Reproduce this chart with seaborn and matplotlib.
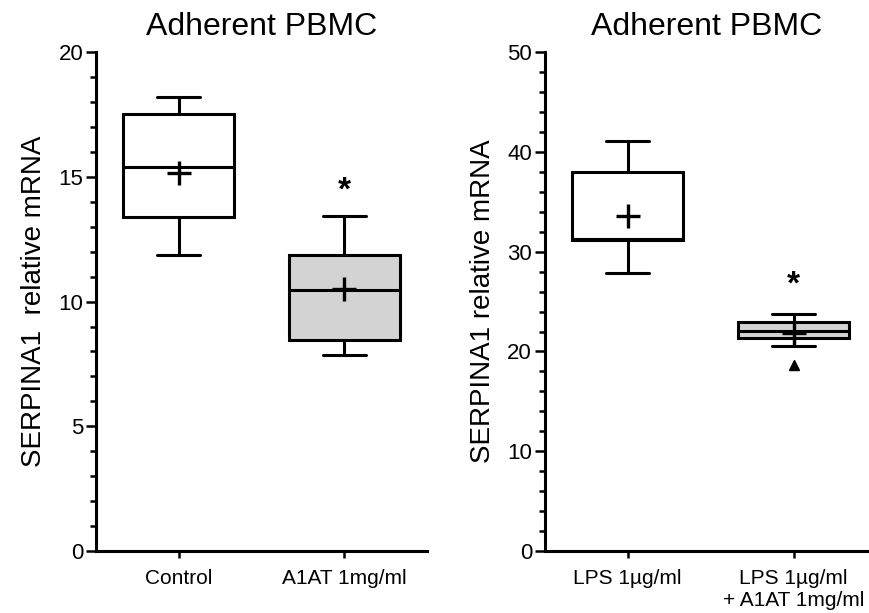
import numpy as np
import pandas as pd
import seaborn as sns
import matplotlib.pyplot as plt
from matplotlib.ticker import MultipleLocator

# values: whisker low, Q1, median, Q3, whisker high
left_groups = ["Control", "A1AT 1mg/ml"]
control_box = [11.85, 13.4, 15.4, 17.5, 18.2]
a1at_box = [7.85, 8.45, 10.45, 11.85, 13.45]
left_means = [15.15, 10.5]
left_stars = [None, 14.7]

right_groups = ["LPS 1µg/ml", "LPS 1µg/ml\n+ A1AT 1mg/ml"]
lps_box = [27.9, 31.15, 31.3, 38.0, 41.1]
lps_a1at_box = [20.6, 21.35, 22.1, 22.95, 23.8]
right_means = [33.6, 21.85]
right_outliers = [None, 18.6]
right_stars = [None, 27.4]

sns.set_style("ticks")
plt.rcParams['font.family'] = ['Liberation Sans', 'DejaVu Sans']
for k in ["text.color", "axes.labelcolor", "xtick.color", "ytick.color",
          "axes.edgecolor"]:
    plt.rcParams[k] = "black"

fig = plt.figure(figsize=(8.7, 6.13), dpi=100)
ax1 = fig.add_axes([0.110, 0.101, 0.381, 0.814])
ax2 = fig.add_axes([0.626, 0.101, 0.372, 0.814])

LW = 2.2
BOXW = 0.67
CAPW = 0.26


def narrow_caps(ax):
    # seaborn draws caps half as wide as the box; the original has shorter ones
    n = 0
    for ln in list(ax.lines):
        xd = np.asarray(ln.get_xdata(), dtype=float)
        yd = np.asarray(ln.get_ydata(), dtype=float)
        if xd.size != 2 or abs(yd[0] - yd[1]) > 1e-9:
            continue
        span = abs(xd[1] - xd[0])
        if 0.05 < span < 0.8 * BOXW:
            c = xd.mean()
            ln.set_xdata(np.array([c - CAPW / 2, c + CAPW / 2]))
            n += 1
    return n


def draw_panel(ax, groups, boxes, means, stars, outliers, ymax, major, minor,
               ylabel, xmax):
    df = pd.DataFrame({
        "group": np.repeat(groups, 5),
        "value": np.concatenate(boxes),
    })
    pal = {groups[0]: "white", groups[1]: "#d3d3d3"}
    sns.boxplot(data=df, x="group", y="value", hue="group", palette=pal,
                order=groups, hue_order=groups, legend=False,
                whis=(0, 100), width=BOXW, linewidth=LW, linecolor="black",
                ax=ax)
    ncaps = narrow_caps(ax)

    pos = np.arange(len(groups))
    ax.plot(pos, means, linestyle="none", marker="+", markersize=17,
            markeredgewidth=2.4, color="black", zorder=5)
    for p, s in zip(pos, stars):
        if s is not None:
            ax.annotate("*", (p, s), xytext=(0, -5), textcoords="offset points",
                        ha="center", va="center", fontsize=24,
                        fontweight="bold")
    if outliers is not None:
        for p, o in zip(pos, outliers):
            if o is not None:
                ax.plot(p, o, marker="^", color="black", markersize=7)

    ax.set_ylim(0, ymax)
    ax.set_xlim(-0.5, xmax)
    ax.yaxis.set_major_locator(MultipleLocator(major))
    ax.yaxis.set_minor_locator(MultipleLocator(minor))
    ax.set_xlabel("")
    ax.set_ylabel(ylabel, fontsize=20, labelpad=8)
    ax.set_title("Adherent PBMC", fontsize=23, pad=12)
    sns.despine(ax=ax)
    for sp in ["left", "bottom"]:
        ax.spines[sp].set_linewidth(LW)
    ax.tick_params(axis="y", which="major", length=7, width=1.8,
                   labelsize=16, pad=2)
    ax.tick_params(axis="y", which="minor", length=4.5, width=1.8)
    ax.tick_params(axis="x", length=5, width=1.8, labelsize=15, pad=8)
    return ncaps


n1 = draw_panel(ax1, left_groups, [control_box, a1at_box], left_means,
                left_stars, None, 20, 5, 1, "SERPINA1  relative mRNA", 1.5)
n2 = draw_panel(ax2, right_groups, [lps_box, lps_a1at_box], right_means,
                right_stars, right_outliers, 50, 10, 2,
                "SERPINA1 relative mRNA", 1.45)
if n1 != 4 or n2 != 4:
    raise RuntimeError(f"caps changed: {n1}, {n2}")

fig.savefig("out.png", dpi=100)
